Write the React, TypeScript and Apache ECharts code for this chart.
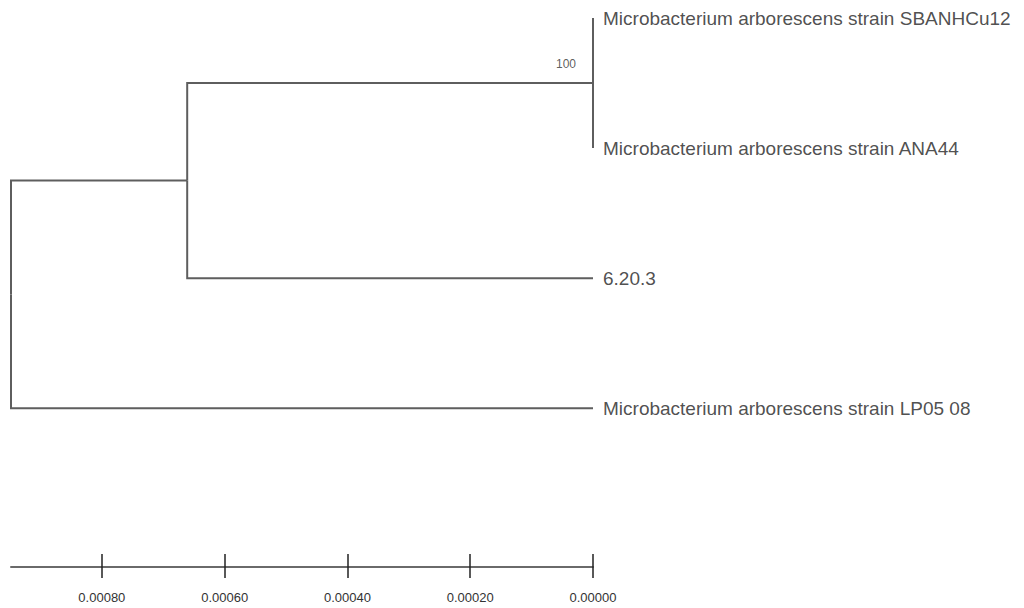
import React, { useEffect, useRef } from "react";
import * as echarts from "echarts";

// Tip (leaf) taxa, top to bottom
const TIP_NAMES = [
  "Microbacterium arborescens strain SBANHCu12",
  "Microbacterium arborescens strain ANA44",
  "6.20.3",
  "Microbacterium arborescens strain LP05 08",
];
// Distance of each tip from the present (axis value)
const TIP_HEIGHTS = [0, 0, 0, 0];

// Internal nodes: heights (axis value) and children ("t#" = tip, "n#" = node)
const NODE_HEIGHTS = [0, 0.000661, 0.000948];
const NODE_CHILDREN = [
  ["t0", "t1"],
  ["n0", "t2"],
  ["n1", "t3"],
];
const NODE_SUPPORT = ["100", "", ""];

// Scale bar ticks
const TICK_VALUES = [0, 0.0002, 0.0004, 0.0006, 0.0008];

const FONT = "Liberation Sans, Arial, sans-serif";

export default function App() {
  const ref = useRef<HTMLDivElement>(null);

  useEffect(() => {
    if (!ref.current) return;
    const chart = echarts.init(ref.current, null, { renderer: "svg" });

    const nodeY: number[] = [];
    const posOf = (r: string) => {
      const i = parseInt(r.slice(1), 10);
      if (r[0] === "t") return { x: TIP_HEIGHTS[i], y: i };
      return { x: NODE_HEIGHTS[i], y: nodeY[i] };
    };
    NODE_CHILDREN.forEach((ch, i) => {
      const ys = ch.map((c) => posOf(c).y);
      nodeY[i] = ys.reduce((a, b) => a + b, 0) / ys.length;
    });

    const branches: any[] = [];
    NODE_CHILDREN.forEach((ch, i) => {
      const nx = NODE_HEIGHTS[i];
      const ny = nodeY[i];
      ch.forEach((c) => {
        const p = posOf(c);
        branches.push({ coords: [[nx, ny], [nx, p.y], [p.x, p.y]] });
      });
    });

    const tipData = TIP_NAMES.map((n, i) => ({ value: [TIP_HEIGHTS[i], i], name: n }));
    const supportData = NODE_SUPPORT.map((s, i) => ({
      value: [NODE_HEIGHTS[i], nodeY[i]],
      name: s,
    })).filter((d) => d.name !== "");

    const xBase = {
      type: "value",
      inverse: true,
      min: 0,
      max: NODE_HEIGHTS[NODE_HEIGHTS.length - 1],
      interval: 0.0002,
      position: "bottom",
      splitLine: { show: false },
    };

    chart.setOption({
      animation: false,
      backgroundColor: "#ffffff",
      grid: { left: 11, right: 431, top: 18, bottom: 41, containLabel: false },
      xAxis: [
        {
          ...xBase,
          axisLine: { show: true, onZero: false, lineStyle: { color: "#6a6a6a", width: 2 } },
          axisTick: {
            show: true,
            customValues: TICK_VALUES,
            length: 11,
            lineStyle: { color: "#222", width: 1.5 },
          },
          axisLabel: {
            show: true,
            customValues: TICK_VALUES,
            formatter: (v: number) => v.toFixed(5),
            margin: 24,
            fontSize: 13,
            color: "#333",
            fontFamily: FONT,
          },
        },
        {
          ...xBase,
          axisLine: { show: false, onZero: false },
          axisTick: {
            show: true,
            inside: true,
            customValues: TICK_VALUES,
            length: 13,
            lineStyle: { color: "#222", width: 1.5 },
          },
          axisLabel: { show: false },
        },
      ],
      yAxis: { type: "value", inverse: true, min: 0, max: 4.22, show: false },
      series: [
        {
          type: "lines",
          coordinateSystem: "cartesian2d",
          polyline: true,
          xAxisIndex: 0,
          yAxisIndex: 0,
          silent: true,
          lineStyle: { color: "#5e5e5e", width: 2, opacity: 1 },
          data: branches,
        },
        {
          type: "scatter",
          xAxisIndex: 0,
          yAxisIndex: 0,
          symbolSize: 0,
          silent: true,
          data: tipData,
          label: {
            show: true,
            position: "right",
            distance: 10,
            formatter: (p: any) => p.name,
            fontSize: 19,
            color: "#222",
            fontFamily: FONT,
          },
        },
        {
          type: "scatter",
          xAxisIndex: 0,
          yAxisIndex: 0,
          symbolSize: 0,
          silent: true,
          data: supportData,
          label: {
            show: true,
            position: "left",
            distance: 17,
            offset: [0, -19],
            formatter: (p: any) => p.name,
            fontSize: 12,
            color: "#333",
            fontFamily: FONT,
          },
        },
      ],
    });

    return () => chart.dispose();
  }, []);

  return (
    <div
      ref={ref}
      style={{ position: "fixed", left: 0, top: 0, width: 1024, height: 608 }}
    />
  );
}
